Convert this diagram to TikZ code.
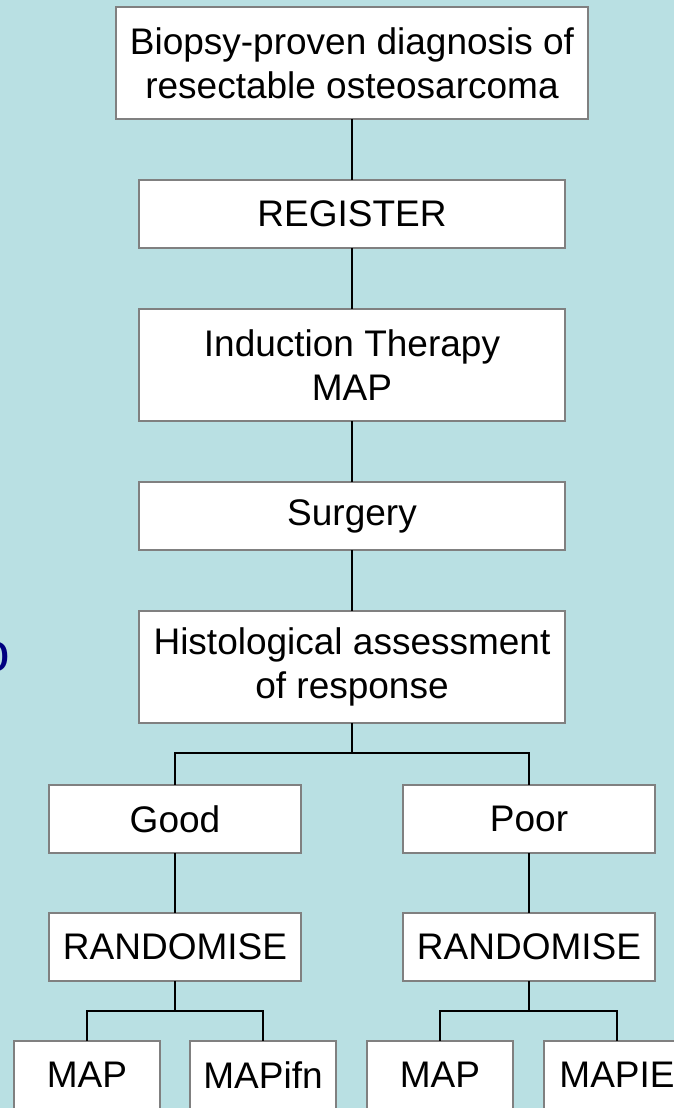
\documentclass[tikz,border=0pt]{standalone}
\usepackage{fontspec}
\setmainfont{Liberation Sans}
\usetikzlibrary{positioning}

\definecolor{slidebg}{RGB}{185,224,227}
\definecolor{boxline}{RGB}{128,128,128}
\definecolor{navytext}{RGB}{0,0,128}

\tikzset{
	stagebox/.style={draw=boxline, line width=2pt, fill=white, inner sep=0pt, outer sep=0pt,
		align=center, font=\fontsize{37}{44}\selectfont},
	mainbox/.style={stagebox, minimum width=426pt, minimum height=68pt},
	armbox/.style={stagebox, minimum width=252pt, minimum height=68pt},
	leafbox/.style={stagebox, minimum width=146pt, minimum height=68pt},
	link/.style={draw=black, line width=2pt}
}

\begin{document}
\begin{tikzpicture}[x=1pt, y=-1pt, node distance=61pt]
				\useasboundingbox (0,0) rectangle (674,1108);
				\fill[slidebg] (0,0) rectangle (674,1108);
				% cut-off letter at the left edge
				\node (edge_letter) at (-5,657) [inner sep=0pt, text=navytext, font=\fontsize{55}{60}\selectfont] {o};

				\node (diagnosis) at (352,63) [stagebox, minimum width=472pt, minimum height=112pt] {Biopsy-proven diagnosis of\\resectable osteosarcoma};
				\node (register) [mainbox, below=of diagnosis] {REGISTER};
				\node (induction) [mainbox, minimum height=112pt, below=of register] {Induction Therapy\\MAP};
				\node (surgery) [mainbox, below=of induction] {Surgery};
				\node (histology) [mainbox, minimum height=112pt, below=of surgery] {Histological assessment\\of response};

				\node (good) [armbox, below=62pt of histology, xshift=-177pt] {Good};
				\node (poor) [armbox, below=62pt of histology, xshift=177pt] {Poor};
				\node (good_rand) [armbox, below=60pt of good] {RANDOMISE};
				\node (poor_rand) [armbox, below=60pt of poor] {RANDOMISE};

				\node (good_map) [leafbox, below=60pt of good_rand, xshift=-88pt] {MAP};
				\node (good_ifn) [leafbox, below=60pt of good_rand, xshift=88pt] {MAPifn};
				\node (poor_map) [leafbox, below=60pt of poor_rand, xshift=-89pt] {MAP};
				\node (poor_ie) [leafbox, below=60pt of poor_rand, xshift=88pt] {MAPIE};

				\coordinate (histology_split) at ([yshift=-30pt]histology.south);
				\coordinate (good_split) at ([yshift=-30pt]good_rand.south);
				\coordinate (poor_split) at ([yshift=-30pt]poor_rand.south);

				\draw[link] (diagnosis) -- (register);
				\draw[link] (register) -- (induction);
				\draw[link] (induction) -- (surgery);
				\draw[link] (surgery) -- (histology);
				\draw[link] (histology.south) -- (histology_split) -| (good.north);
				\draw[link] (histology_split) -| (poor.north);
				\draw[link] (good) -- (good_rand);
				\draw[link] (poor) -- (poor_rand);
				\draw[link] (good_rand.south) -- (good_split) -| (good_map.north);
				\draw[link] (good_split) -| (good_ifn.north);
				\draw[link] (poor_rand.south) -- (poor_split) -| (poor_map.north);
				\draw[link] (poor_split) -| (poor_ie.north);
			\end{tikzpicture}
\end{document}
